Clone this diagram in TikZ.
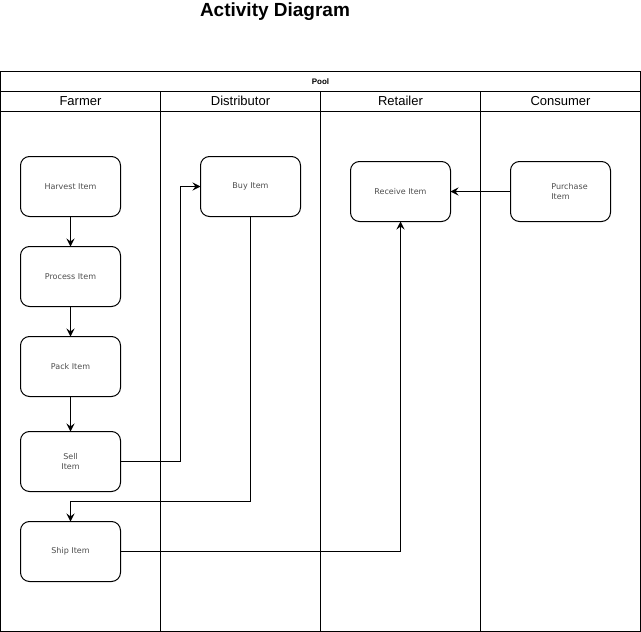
\documentclass[tikz,border=0pt]{standalone}
\usepackage{fontspec}
\setmainfont{Liberation Sans}
\newfontfamily\actfont{DejaVu Sans}
\usetikzlibrary{arrows.meta,
	positioning
}
\tikzset{Activity/.style = {
		x=1pt, y=-1pt, line width=1pt,
		every node/.style = {inner sep=0pt, outer sep=0pt},
		action/.style = {rectangle, draw, rounded corners=9pt,
			minimum width=100pt, minimum height=60pt, align=center,
			text=black!70, font=\actfont\fontsize{8}{10}\selectfont},
		poolhead/.style = {rectangle, draw, minimum width=640pt, minimum height=20pt,
			font=\bfseries\fontsize{8}{10}\selectfont},
		lanehead/.style = {rectangle, draw, minimum width=160pt, minimum height=20pt,
			text height=9.5pt, text depth=2.5pt, font=\fontsize{13}{15}\selectfont},
		lane/.style = {rectangle, draw, minimum width=160pt, minimum height=520pt},
		flow/.style = {-{Stealth[length=8pt,width=8pt,inset=3pt]}}
	}% end of Activity style
}
\begin{document}
\begin{tikzpicture}[Activity]
  \useasboundingbox (0,0) rectangle (641,632);
  \node (title) [font=\bfseries\fontsize{19}{21}\selectfont] at (275,12) {Activity Diagram};

  \node[poolhead] (Pool) at (320.5,81.5) {Pool};
  \node[lanehead] (FarmerHead) at (80.5,101.5) {Farmer};
  \node[lanehead] (DistHead) at (240.5,101.5) {Distributor};
  \node[lanehead] (RetailHead) at (400.5,101.5) {Retailer};
  \node[lanehead] (ConsHead) at (560.5,101.5) {Consumer};
  \node[lane] (FarmerLane) at (80.5,371.5) {};
  \node[lane] (DistLane) at (240.5,371.5) {};
  \node[lane] (RetailLane) at (400.5,371.5) {};
  \node[lane] (ConsLane) at (560.5,371.5) {};

  \node[action] (Harvest) at (70.5,186.5) {Harvest Item};
  \node[action] (Process) at (70.5,276.5) {Process Item};
  \node[action] (Pack) at (70.5,366.5) {Pack Item};
  \node[action] (Sell) at (70.5,461.5) {Sell\\Item};
  \node[action] (Ship) at (70.5,551.5) {Ship Item};
  \node[action] (Buy) at (250.5,186.5) {Buy Item};
  \node[action] (Receive) at (400.5,191.5) {Receive Item};
  \node[action, align=left] (Purchase) at (560.5,191.5) {\hspace*{18pt}Purchase\\\hspace*{18pt}Item};

  \draw[flow] (Harvest) -- (Process);
  \draw[flow] (Process) -- (Pack);
  \draw[flow] (Pack) -- (Sell);
  \draw[flow] (Sell.east) -- (180.5,461.5) |- (Buy.west);
  \draw[flow] (Buy.south) -- (250.5,501.5) -| (Ship.north);
  \draw[flow] (Ship.east) -| (Receive.south);
  \draw[flow] (Purchase) -- (Receive);
\end{tikzpicture}
\end{document}
